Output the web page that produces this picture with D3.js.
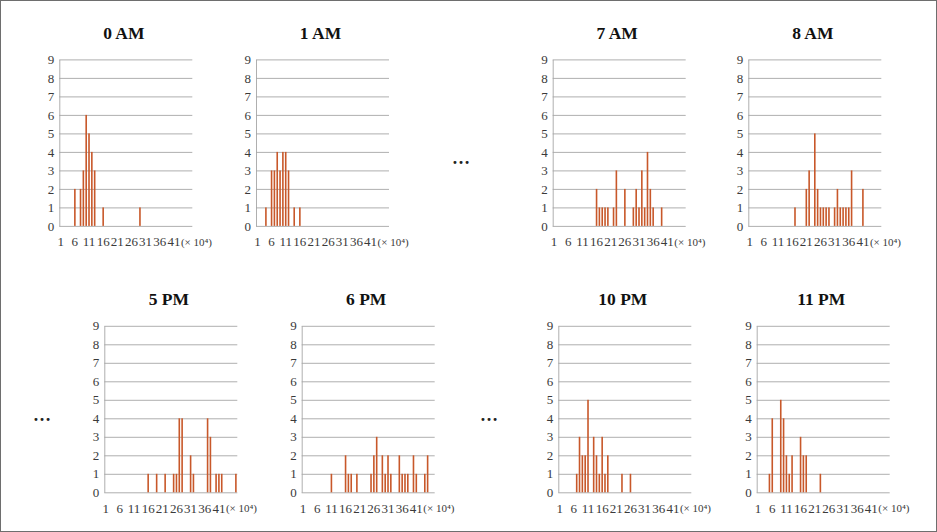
<!DOCTYPE html>
<html>
<head>
<meta charset="utf-8">
<script src="https://cdn.jsdelivr.net/npm/d3@7"></script>
<style>
  body { margin: 0; background: #fff; }
  svg { display: block; }
  .title { font-family: "Liberation Serif", serif; font-weight: bold; font-size: 17.5px; fill: #111; }
  .axis text { font-family: "Liberation Serif", serif; font-size: 13px; fill: #3a3a3a; }
  .axis line, .axis path { stroke: #a6a6a6; stroke-width: 0.9; }
  .unit { font-family: "Liberation Serif", serif; font-size: 11px; fill: #3a3a3a; }
  .dots { font-family: "Liberation Serif", serif; font-weight: bold; font-size: 18px; fill: #222; }
</style>
</head>
<body>
<script>
// bins of 10^4 along x, count of cases on y
var binCount = 47;
var xLabels = [1, 6, 11, 16, 21, 26, 31, 36, 41];
var yTicks = [0, 1, 2, 3, 4, 5, 6, 7, 8, 9];
var titles = ["0 AM", "1 AM", "7 AM", "8 AM", "5 PM", "6 PM", "10 PM", "11 PM"];

// [bin, count]
var am0 = [[6,2],[8,2],[9,3],[10,6],[11,5],[12,4],[13,3],[16,1],[29,1]];
var am1 = [[4,1],[6,3],[7,3],[8,4],[9,3],[10,4],[11,4],[12,3],[14,1],[16,1]];
var am7 = [[16,2],[17,1],[18,1],[19,1],[20,1],[22,1],[23,3],[26,2],[29,1],[30,2],[31,1],[32,3],[33,1],[34,4],[35,2],[36,1],[39,1]];
var am8 = [[17,1],[21,2],[22,3],[24,5],[25,2],[26,1],[27,1],[28,1],[29,1],[31,1],[32,2],[33,1],[34,1],[35,1],[36,1],[37,3],[41,2]];
var pm5 = [[16,1],[19,1],[22,1],[25,1],[26,1],[27,4],[28,4],[31,2],[32,1],[37,4],[38,3],[40,1],[41,1],[42,1],[47,1]];
var pm6 = [[11,1],[16,2],[17,1],[18,1],[20,1],[25,1],[26,2],[27,3],[29,2],[30,1],[31,2],[32,1],[35,2],[36,1],[37,1],[38,1],[40,2],[41,1],[44,1],[45,2]];
var pm10 = [[7,1],[8,3],[9,2],[10,2],[11,5],[13,3],[14,2],[15,1],[16,3],[17,1],[18,2],[23,1],[26,1]];
var pm11 = [[5,1],[6,4],[9,5],[10,4],[11,2],[12,1],[13,2],[16,3],[17,2],[18,2],[23,1]];

var series = [am0, am1, am7, am8, pm5, pm6, pm10, pm11];

var W = 937, H = 532;
var pw = 133, ph = 166.5;
var lefts = [59.3, 256, 552.7, 748.3, 104.3, 301.7, 558.3, 756.7];
var tops = [59.4, 59.4, 59.4, 59.4, 325.8, 325.8, 325.8, 325.8];

var svg = d3.select("body").append("svg")
    .attr("width", W)
    .attr("height", H);

svg.append("rect")
    .attr("x", 0.5).attr("y", 0.5)
    .attr("width", W - 1).attr("height", H - 1)
    .attr("fill", "#fff")
    .attr("stroke", "#6e6e6e");

var x = d3.scaleBand().domain(d3.range(1, binCount + 1)).range([0, pw]);
var y = d3.scaleLinear().domain([0, 9]).range([ph, 0]);
var barW = 1.6;

series.forEach(function(data, i) {
  var g = svg.append("g")
      .attr("transform", "translate(" + lefts[i] + "," + tops[i] + ")");

  // gridlines + y labels
  g.append("g")
      .attr("class", "axis")
      .call(d3.axisLeft(y).tickValues(yTicks).tickSize(-pw).tickSizeOuter(0).tickPadding(5).tickFormat(d3.format("d")));

  // x labels
  var xa = g.append("g")
      .attr("class", "axis")
      .attr("transform", "translate(0," + ph + ")")
      .call(d3.axisBottom(x).tickValues(xLabels).tickSize(0).tickPadding(11));
  xa.select(".domain").remove();

  g.append("text")
      .attr("class", "unit")
      .attr("x", x(41) + x.bandwidth() / 2 + 7)
      .attr("y", ph + 20)
      .text("(× 10⁴)");

  g.selectAll(".bar")
      .data(data)
    .enter().append("rect")
      .attr("class", "bar")
      .attr("x", function(d) { return x(d[0]) + x.bandwidth() / 2 - barW / 2; })
      .attr("y", function(d) { return y(d[1]); })
      .attr("width", barW)
      .attr("height", function(d) { return ph - y(d[1]); })
      .attr("fill", "#c8582a");

  g.append("text")
      .attr("class", "title")
      .attr("x", pw / 2 - 2)
      .attr("y", i < 4 ? -20.5 : -20.8)
      .attr("text-anchor", "middle")
      .text(titles[i]);
});

// gaps in the hour sequence
var dots = [[461, 164], [42, 421], [489, 421]];
svg.selectAll(".dots")
    .data(dots)
  .enter().append("text")
    .attr("class", "dots")
    .attr("x", function(d) { return d[0]; })
    .attr("y", function(d) { return d[1]; })
    .attr("text-anchor", "middle")
    .text("…");
</script>
</body>
</html>
